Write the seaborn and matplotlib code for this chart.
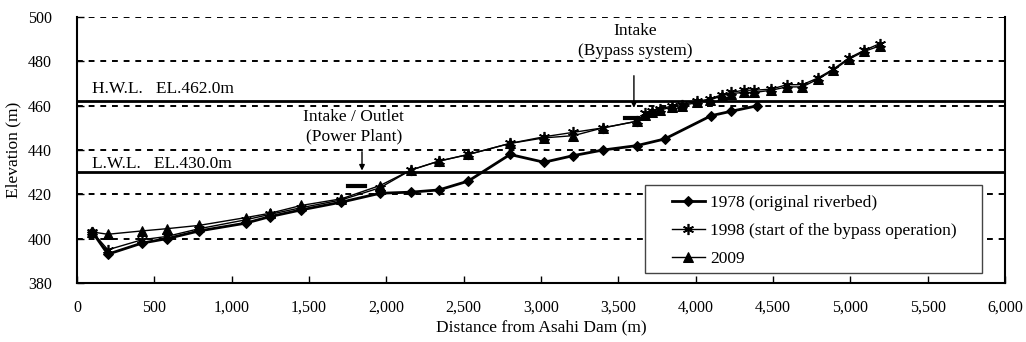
import numpy as np
import pandas as pd
import seaborn as sns
import matplotlib.pyplot as plt
from matplotlib.patches import Rectangle

# distance from dam (m) and riverbed elevation (m)
dist_1978 = [100, 200, 420, 580, 790, 1090, 1250, 1450, 1710, 1960, 2160, 2340,
             2530, 2800, 3020, 3210, 3400, 3620, 3800, 4100, 4230, 4400]
elev_1978 = [403, 393, 398, 400, 403.5, 407, 410, 413, 416.5, 420.5, 421, 422,
             426, 438, 434.5, 437.5, 440, 442, 445, 455.5, 457.5, 460]

dist_later = [100, 200, 420, 580, 790, 1090, 1250, 1450, 1710, 1960, 2160, 2340,
              2530, 2800, 3020, 3210, 3400, 3620, 3670, 3720, 3770, 3850, 3910,
              4010, 4090, 4170, 4230, 4310, 4380, 4490, 4590, 4690, 4790, 4890,
              4990, 5090, 5190]
elev_1998 = [403, 395, 399.5, 401, 404.5, 408.5, 411, 414, 417.5, 423, 431, 435,
             438, 443, 446, 448, 450, 453, 456.5, 457.5, 458.5, 460, 460.5,
             462, 463, 465, 466, 467, 467, 467.5, 469.5, 469.5, 472.5, 476.5,
             481.5, 485, 488]
elev_2009 = [403, 402, 403.5, 404.5, 406, 409.5, 411.5, 415, 418, 424, 431, 435,
             438, 443, 445.5, 446.5, 450, 453, 456, 457, 458, 459.5, 460,
             461.5, 462.5, 464.5, 465.5, 466, 466, 467, 468.5, 468.5, 472, 476,
             481, 484.5, 487]

hwl, lwl = 462.0, 430.0

plt.rcParams['font.family'] = ['Liberation Serif', 'DejaVu Serif']
plt.rcParams['font.size'] = 12.5

fig = plt.figure(figsize=(10.26, 3.42), dpi=100)
ax = fig.add_axes([0.075, 0.1725, 0.9045, 0.7775])

# dashed grid first so the data sits on top
for g in [400, 420, 440, 460, 480, 500]:
    ax.axhline(g, color='black', lw=1.4, ls=(0, (3, 3)), zorder=1)
ax.axhline(hwl, color='black', lw=2, zorder=2)
ax.axhline(lwl, color='black', lw=2, zorder=2)

df78 = pd.DataFrame({'d': dist_1978, 'e': elev_1978})
df98 = pd.DataFrame({'d': dist_later, 'e': elev_1998})
df09 = pd.DataFrame({'d': dist_later, 'e': elev_2009})

sns.lineplot(data=df09, x='d', y='e', ax=ax, color='black', lw=1, marker='^',
             markersize=7, markeredgecolor='black', sort=False, estimator=None,
             label='2009', zorder=3)
sns.lineplot(data=df98, x='d', y='e', ax=ax, color='black', lw=1, marker=(6, 2, 0),
             markersize=8, markeredgewidth=1.2, markeredgecolor='black',
             sort=False, estimator=None,
             label='1998 (start of the bypass operation)', zorder=4)
sns.lineplot(data=df78, x='d', y='e', ax=ax, color='black', lw=2, marker='D',
             markersize=5, markeredgecolor='black', sort=False, estimator=None,
             label='1978 (original riverbed)', zorder=5)

# intake markers
ax.plot([1752, 1862], [423.9, 423.9], color='black', lw=3, zorder=6)
ax.plot([3545, 3625], [454.4, 454.4], color='black', lw=3, zorder=6)

ax.annotate('', xy=(1843, 429.5), xytext=(1843, 440.5),
            arrowprops=dict(arrowstyle='-|>', color='black', lw=1, mutation_scale=8))
ax.annotate('', xy=(3601, 457.8), xytext=(3601, 474.8),
            arrowprops=dict(arrowstyle='-|>', color='black', lw=1, mutation_scale=8))

ax.text(1790, 442.6, 'Intake / Outlet\n(Power Plant)', ha='center', va='bottom',
        linespacing=1.25)
ax.text(3610, 481.2, 'Intake\n(Bypass system)', ha='center', va='bottom',
        linespacing=1.3)
ax.text(100, 463.8, 'H.W.L.   EL.462.0m', ha='left', va='bottom')
ax.text(100, 430.2, 'L.W.L.   EL.430.0m', ha='left', va='bottom')

ax.set_xlim(0, 6000)
ax.set_ylim(380, 500)
ax.set_xticks(np.arange(0, 6001, 500))
ax.set_xticklabels([f'{v:,}' for v in range(0, 6001, 500)])
ax.set_yticks(np.arange(380, 501, 20))
ax.tick_params(direction='in', length=5, width=1, labelsize=11.5)
ax.tick_params(axis='x', pad=12)
ax.tick_params(axis='y', pad=18)
ax.set_xlabel('Distance from Asahi Dam (m)', labelpad=3)
ax.set_ylabel('Elevation (m)', labelpad=5)

ax.spines['top'].set_visible(False)
for s in ['left', 'bottom', 'right']:
    ax.spines[s].set_linewidth(1.5)
    ax.spines[s].set_color('black')

# legend frame drawn separately so the entries can sit indented inside it
ax.add_patch(Rectangle((0.612, 0.0376), 0.363, 0.33, transform=ax.transAxes,
                       facecolor='white', edgecolor='#444444', lw=1, zorder=7))
handles, labels = ax.get_legend_handles_labels()
order = [2, 1, 0]
leg = ax.legend([handles[i] for i in order], [labels[i] for i in order],
                loc='upper left', bbox_to_anchor=(0.641, 0.33),
                borderaxespad=0, borderpad=0, frameon=False,
                labelspacing=0.68, handlelength=1.9, handletextpad=0.3)
leg.set_zorder(8)

fig.savefig('out.png', dpi=100)
